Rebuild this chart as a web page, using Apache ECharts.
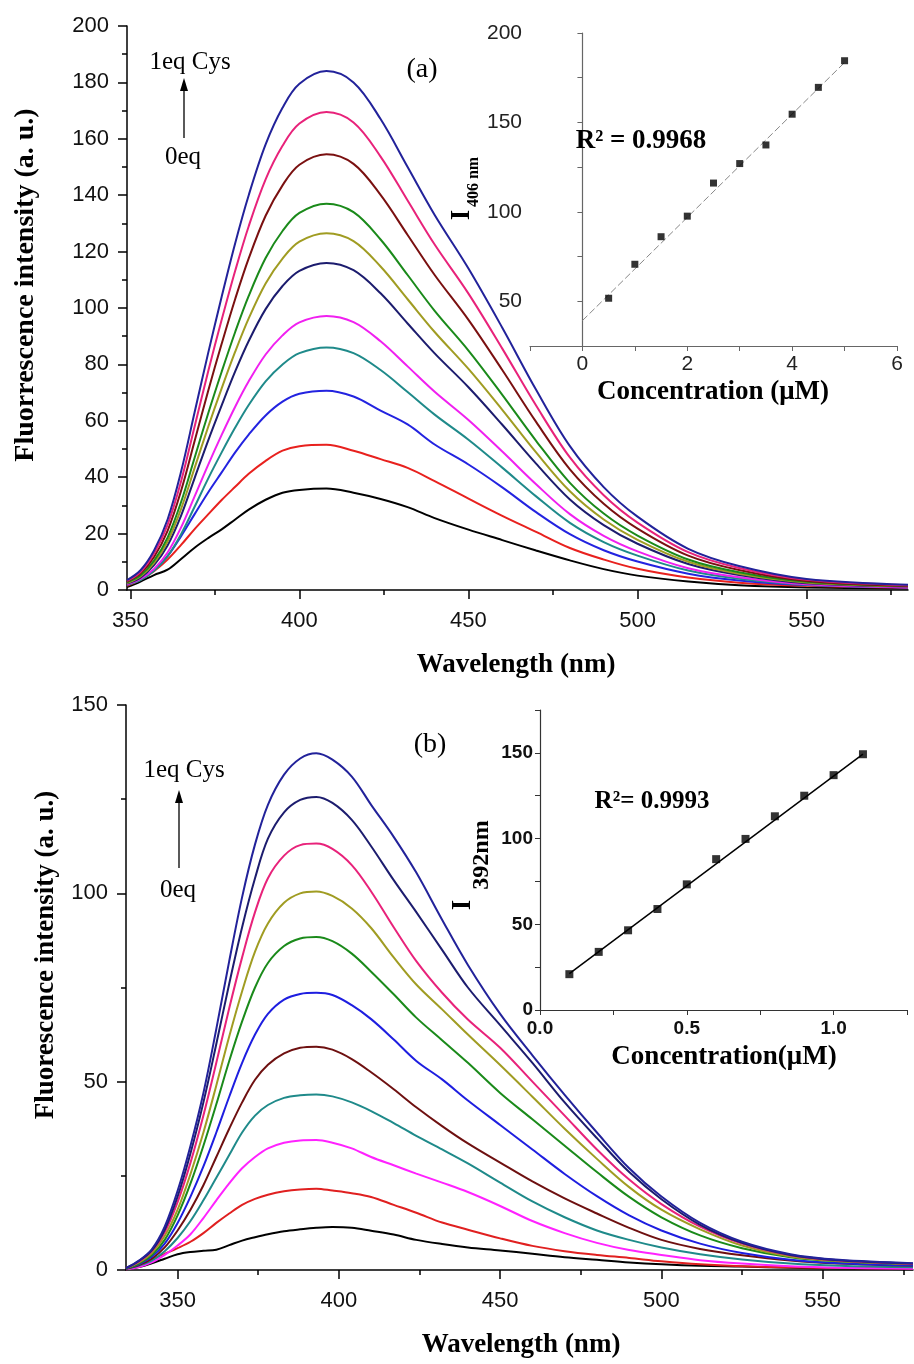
<!DOCTYPE html>
<html>
<head>
<meta charset="utf-8">
<script src="https://cdn.jsdelivr.net/npm/echarts@6/dist/echarts.min.js"></script>
<style>
  html, body { margin: 0; padding: 0; background: #fff; }
  #chart { width: 914px; height: 1364px; }
</style>
</head>
<body>
<div id="chart"></div>
<script>
// ---- panel (a): emission spectra, 0 -> 1 eq Cys ----
const wavelengthA = [349, 353, 357, 361, 365, 369, 373, 377, 381, 385, 390, 395, 400, 408, 416, 424, 432, 440, 450, 460, 470, 480, 490, 500, 515, 530, 550, 580];
const a0 = [1.0, 3.0, 5.3, 7.2, 11, 15, 18.4, 21.5, 25, 28.5, 32, 34.5, 35.5, 36, 34.5, 32.3, 29.4, 25.5, 21.4, 17.7, 14, 10.5, 7.4, 5.1, 3.0, 1.7, 0.9, 0.5];
const a1 = [1.5, 3.6, 6.7, 10.8, 16, 21.6, 26.8, 31.9, 36.6, 41.2, 45.8, 49.4, 51, 51.5, 49.4, 46.4, 43.3, 38.6, 32.4, 26.3, 20.6, 14.9, 10.8, 7.5, 4.4, 2.6, 1.5, 0.8];
const a2 = [1.8, 3.9, 7.1, 12, 19.1, 26.9, 34.6, 41.7, 48.8, 55.1, 61.9, 66.8, 69.6, 70.7, 68.6, 63.6, 58.7, 51.6, 44.5, 36.4, 27.6, 19.8, 14.1, 10.1, 5.8, 3.4, 1.8, 0.9];
const a3 = [1.9, 3.5, 6.8, 12, 19.8, 29.5, 39.5, 48.8, 57.6, 65.6, 74, 80, 84, 86, 84, 78, 70.2, 62.2, 53.3, 43.4, 33.2, 23.8, 17, 12.2, 6.9, 4, 1.9, 1.0];
const a4 = [2, 3.9, 7.5, 13.3, 22.2, 33.2, 44.4, 55, 65, 74, 83.5, 90.3, 94.9, 97.2, 95, 88.2, 79.3, 70.3, 60.3, 49.1, 37.5, 26.9, 19.2, 13.7, 7.7, 4.5, 2.0, 0.9];
const a5 = [2.3, 4.4, 8.8, 15.8, 26.4, 39.7, 53, 65.5, 77.5, 88.3, 99.6, 107.8, 113.2, 116, 113.4, 105.2, 94.5, 83.9, 71.9, 58.6, 44.8, 32.1, 23, 16.4, 9.2, 5.3, 2.4, 1.2];
const a6 = [2.5, 4.8, 9.6, 17.2, 28.8, 43.3, 57.8, 71.5, 84.5, 96.3, 108.7, 117.5, 123.5, 126.5, 123.7, 114.7, 103.1, 91.5, 78.4, 63.9, 48.8, 35, 25, 17.8, 10, 5.8, 2.7, 1.3];
const a7 = [2.7, 5.2, 10.4, 18.6, 31.2, 46.9, 62.6, 77.4, 91.5, 104.3, 117.7, 127.3, 133.7, 137, 134, 124.3, 111.7, 99, 84.9, 69.2, 52.9, 38, 27.1, 19.3, 10.8, 6.3, 2.9, 1.4];
const a8 = [3, 5.9, 11.7, 21, 35.2, 52.8, 70.6, 87.3, 103.2, 117.6, 132.7, 143.5, 150.8, 154.5, 151.1, 140.1, 125.9, 111.7, 95.8, 78, 59.6, 42.8, 30.6, 21.8, 12.2, 7.1, 3.2, 1.5];
const a9 = [3.2, 6.4, 12.9, 23.1, 38.6, 58, 77.5, 95.8, 113.2, 129, 145.6, 157.5, 165.4, 169.5, 165.8, 153.7, 138.1, 122.5, 105.1, 85.6, 65.4, 47, 33.6, 23.9, 13.4, 7.8, 3.6, 1.7];
const a10 = [3.5, 7, 14, 25, 42, 63, 84, 104, 123, 140, 158, 171, 179.5, 184, 180, 167, 150, 133, 114, 93, 71, 51, 36.5, 26, 14.6, 8.5, 3.9, 1.9];
const colorsA = ['#000000', '#e8211e', '#2323e0', '#1f8a8a', '#f020f0', '#1c1c6e', '#a09c22', '#1a8a1a', '#7a1010', '#e8227a', '#22229a'];

// inset (a): I(406 nm) vs concentration
const concA = [0.5, 1, 1.5, 2, 2.5, 3, 3.5, 4, 4.5, 5];
const peakA = [51.7, 70.7, 86.1, 97.6, 116.1, 127.0, 137.4, 154.6, 169.6, 184.5];
const fitConcA = [0, 5];
const fitPeakA = [39.2, 183.5];

// ---- panel (b) ----
const wavelengthB = [334, 338, 342, 346, 350, 354, 358, 362, 366, 370, 374, 378, 383, 388, 393, 398, 404, 410, 417, 424, 432, 440, 450, 460, 470, 480, 490, 500, 512, 525, 540, 555, 578];
const b0 = [0.2, 0.8, 1.8, 3.0, 4.2, 4.8, 5.1, 5.4, 6.6, 7.8, 8.7, 9.5, 10.3, 10.8, 11.2, 11.4, 11.2, 10.4, 9.4, 8.0, 6.9, 6.0, 5.2, 4.3, 3.4, 2.7, 2.0, 1.5, 1.1, 0.9, 0.6, 0.4, 0.2];
const b1 = [0.2, 1.0, 2.8, 4.3, 5.8, 7.5, 9.8, 12.5, 15, 17.3, 18.9, 20, 20.9, 21.4, 21.6, 21.1, 20.4, 19.4, 17.3, 15.2, 12.6, 10.7, 8.4, 6.4, 5.0, 4.0, 3.2, 2.3, 1.5, 1.0, 0.7, 0.5, 0.4];
const b2 = [0.2, 0.8, 2.0, 4.0, 6.5, 9.5, 13.8, 18.5, 23, 27, 30, 32.3, 33.8, 34.4, 34.5, 33.8, 32.3, 30, 27.8, 25.6, 23.2, 20.7, 17, 13, 9.8, 7.2, 5.3, 4.0, 2.6, 1.7, 1.0, 0.6, 0.3];
const b3 = [0.3, 1.2, 2.5, 5, 8.5, 13, 18.5, 24.5, 30.5, 36.5, 41, 43.8, 45.7, 46.4, 46.6, 46.1, 44.5, 42.2, 39, 35.6, 32, 28.3, 23.2, 18.2, 14, 10.5, 8, 6, 4.2, 2.8, 1.7, 1.1, 0.7];
const b4 = [0.3, 1.3, 3, 6, 10.5, 16, 22.5, 30, 37.5, 44.5, 50.5, 54.5, 57.5, 59, 59.3, 58.5, 56, 52.5, 48, 43.2, 38.2, 33.6, 28.5, 23.5, 19, 15, 11.2, 8, 5.6, 3.9, 2.5, 1.7, 1.1];
const b5 = [0.4, 1.5, 3.5, 7, 12.5, 19.5, 27.5, 36.5, 46, 55, 62.5, 68, 71.8, 73.3, 73.6, 73, 70.3, 66.6, 61.2, 55.5, 50.6, 45, 38.5, 32, 25.5, 19.6, 14.5, 10.5, 7, 4.5, 2.7, 1.8, 1.2];
const b6 = [0.4, 1.7, 4, 8, 14.5, 23, 33, 44, 55.5, 66, 75, 81.5, 86, 88, 88.4, 87.3, 84, 79.2, 73.2, 67, 61, 55, 47, 40, 33, 26, 19.4, 14, 9.2, 5.8, 3.4, 2.3, 1.5];
const b7 = [0.5, 2, 4.5, 9, 16, 25.5, 36.5, 49, 62, 74, 84.5, 92, 97.5, 100, 100.5, 99.3, 96, 90.8, 83, 75.8, 69.2, 62.5, 54.4, 46, 37.5, 29.5, 22, 16, 10.8, 6.5, 3.6, 2.4, 1.6];
const b8 = [0.5, 2.2, 5, 10, 18, 28.5, 41, 55, 69.5, 83, 95, 104, 110, 112.8, 113.2, 111.8, 107.5, 100.5, 91, 82, 73.6, 66.5, 59, 50, 41, 32, 24, 17.5, 11.5, 7.0, 3.9, 2.5, 1.6];
const b9 = [0.5, 2.4, 5.2, 10.7, 19.5, 31, 44.5, 60, 76, 91, 104, 114.5, 121.5, 124.8, 125.6, 124, 119.5, 112.5, 103.5, 95, 85, 75, 65, 55, 44.5, 35, 26, 18.8, 12, 7.2, 4.0, 2.6, 1.7];
const b10 = [0.5, 2.5, 5.5, 11.5, 21, 33, 47, 64, 82, 99, 113, 123.5, 131.5, 135.8, 137.2, 135.5, 131, 123.5, 115, 105.5, 93, 81, 68, 57, 46.5, 36.5, 27, 19.5, 12.5, 7.5, 4.2, 2.7, 1.8];
const colorsB = ['#000000', '#e02020', '#ff22ff', '#1f8a8a', '#6e1010', '#1e1ee0', '#1a8a1a', '#a09c22', '#e8227a', '#1c1c6e', '#22229a'];

// inset (b): I(392 nm) vs concentration
const concB = [0.1, 0.2, 0.3, 0.4, 0.5, 0.6, 0.7, 0.8, 0.9, 1.0, 1.1];
const peakB = [20.9, 33.9, 46.5, 58.9, 73.3, 88.0, 99.8, 113.0, 125.0, 137.0, 149.2];
const fitConcB = [0.1, 1.1];
const fitPeakB = [21.2, 149.3];

const ticksMajor = [350, 400, 450, 500, 550];
const ticksMinor = [375, 425, 475, 525, 575];

const SANS = 'Liberation Sans';
const SERIF = 'Liberation Serif';

const zip = (xs, ys) => xs.map((x, i) => [x, ys[i]]);

function spectrum(w, ys, color, xi, yi) {
    return {
        type: 'line', xAxisIndex: xi, yAxisIndex: yi,
        data: zip(w, ys), smooth: 0.35, symbol: 'none',
        lineStyle: { color: color, width: 2 }, z: 2
    };
}

function mainX(grid, min, max) {
    return [{
        gridIndex: grid, type: 'value', position: 'bottom', min: min, max: max,
        axisLine: { lineStyle: { color: '#000', width: 1.5 } },
        axisTick: { customValues: ticksMajor, length: 9, lineStyle: { color: '#000', width: 1.5 } },
        axisLabel: { customValues: ticksMajor, margin: 20, fontFamily: SANS, fontSize: 22, color: '#111' },
        splitLine: { show: false }
    }, {
        // second axis on the same spot, only for the short in-between ticks
        gridIndex: grid, type: 'value', position: 'bottom', min: min, max: max,
        axisLine: { show: false },
        axisTick: { customValues: ticksMinor, length: 5, lineStyle: { color: '#000', width: 1.5 } },
        axisLabel: { show: false },
        splitLine: { show: false }
    }];
}

function mainY(grid, max, interval) {
    return {
        gridIndex: grid, type: 'value', min: 0, max: max, interval: interval,
        axisLine: { show: true, lineStyle: { color: '#000', width: 1.5 } },
        axisTick: { show: true, length: 9, lineStyle: { color: '#000', width: 1.5 } },
        minorTick: { show: true, splitNumber: 2, length: 5, lineStyle: { color: '#000', width: 1.5 } },
        axisLabel: { margin: 18, fontFamily: SANS, fontSize: 22, color: '#111' },
        splitLine: { show: false }
    };
}

const chart = echarts.init(document.getElementById('chart'));

const seriesA = [a0, a1, a2, a3, a4, a5, a6, a7, a8, a9, a10].map((ys, i) => spectrum(wavelengthA, ys, colorsA[i], 0, 0));
const seriesB = [b0, b1, b2, b3, b4, b5, b6, b7, b8, b9, b10].map((ys, i) => spectrum(wavelengthB, ys, colorsB[i], 3, 2));

const txt = (x, y, text, font, extra) => Object.assign({
    type: 'text', x: x, y: y, z: 10,
    style: { text: text, font: font, fill: '#000', textAlign: 'center', textVerticalAlign: 'middle' }
}, extra || {});

const arrow = (x, yTail, yTip) => ({
    type: 'group', z: 10,
    children: [
        { type: 'line', shape: { x1: x, y1: yTail, x2: x, y2: yTip + 10 }, style: { stroke: '#000', lineWidth: 1.3 } },
        { type: 'polygon', shape: { points: [[x, yTip], [x - 4, yTip + 13], [x + 4, yTip + 13]] }, style: { fill: '#000' } }
    ]
});

const up = { rotation: Math.PI / 2 };

chart.setOption({
    animation: false,
    backgroundColor: '#fff',
    grid: [
        { left: 127, top: 26, width: 781, height: 564 },
        { left: 530, top: 33, width: 367, height: 313 },
        { left: 126, top: 705, width: 787, height: 565 },
        { left: 540, top: 710, width: 367, height: 300 }
    ],
    xAxis: [
        ...mainX(0, 349, 580),
        {
            gridIndex: 1, type: 'value', min: -1, max: 6, interval: 1,
            axisLine: { lineStyle: { color: '#666', width: 1.2 } },
            axisTick: { length: 5, lineStyle: { color: '#666' } },
            axisLabel: {
                margin: 8, fontFamily: SANS, fontSize: 21, color: '#222',
                formatter: v => (v >= 0 && v % 2 === 0) ? String(v) : ''
            },
            splitLine: { show: false }
        },
        ...mainX(2, 334, 578),
        {
            gridIndex: 3, type: 'value', min: 0, max: 1.25, interval: 0.25,
            axisLine: { lineStyle: { color: '#333', width: 1.2 } },
            axisTick: { length: 5, lineStyle: { color: '#333' } },
            axisLabel: {
                margin: 9, fontFamily: SANS, fontSize: 19, fontWeight: 'bold', color: '#111',
                formatter: v => Math.abs(v * 2 - Math.round(v * 2)) < 1e-6 ? v.toFixed(1) : ''
            },
            splitLine: { show: false }
        }
    ],
    yAxis: [
        mainY(0, 200, 20),
        {
            gridIndex: 1, type: 'value', min: 25, max: 200, interval: 25,
            axisLine: { show: true, lineStyle: { color: '#666', width: 1.2 } },
            axisTick: { show: true, length: 5, lineStyle: { color: '#666' } },
            axisLabel: {
                margin: 8, fontFamily: SANS, fontSize: 21, color: '#222',
                formatter: v => v % 50 === 0 ? String(v) : ''
            },
            splitLine: { show: false }
        },
        mainY(2, 150, 50),
        {
            gridIndex: 3, type: 'value', min: 0, max: 175, interval: 25,
            axisLine: { show: true, lineStyle: { color: '#333', width: 1.2 } },
            axisTick: { show: true, length: 5, lineStyle: { color: '#333' } },
            axisLabel: {
                margin: 7, fontFamily: SANS, fontSize: 19, fontWeight: 'bold', color: '#111',
                formatter: v => v % 50 === 0 ? String(v) : ''
            },
            splitLine: { show: false }
        }
    ],
    series: [
        ...seriesA,
        {
            type: 'line', xAxisIndex: 2, yAxisIndex: 1, data: zip(fitConcA, fitPeakA),
            symbol: 'none', lineStyle: { color: '#888', width: 1, type: [7, 3] }, z: 3
        },
        {
            type: 'scatter', xAxisIndex: 2, yAxisIndex: 1, data: zip(concA, peakA),
            symbol: 'rect', symbolSize: 7, itemStyle: { color: '#000' }, z: 4
        },
        ...seriesB,
        {
            type: 'line', xAxisIndex: 5, yAxisIndex: 3, data: zip(fitConcB, fitPeakB),
            symbol: 'none', lineStyle: { color: '#000', width: 1.5 }, z: 3
        },
        {
            type: 'scatter', xAxisIndex: 5, yAxisIndex: 3, data: zip(concB, peakB),
            symbol: 'rect', symbolSize: 8, itemStyle: { color: '#000' }, z: 4
        }
    ],
    graphic: [
        // panel (a)
        txt(26, 285, 'Fluorrescence intensity (a. u.)', 'bold 28px ' + SERIF, up),
        txt(516, 665, 'Wavelength (nm)', 'bold 27px ' + SERIF),
        txt(190, 62, '1eq Cys', '25px ' + SERIF),
        arrow(184, 138, 78),
        txt(183, 157, '0eq', '25px ' + SERIF),
        txt(422, 70, '(a)', '28px ' + SERIF),
        txt(641, 141, 'R² = 0.9968', 'bold 27px ' + SERIF),
        txt(462, 215, 'I', 'bold 27px ' + SERIF, up),
        txt(474, 182, '406 nm', 'bold 16px ' + SERIF, up),
        txt(713, 392, 'Concentration (μM)', 'bold 27px ' + SERIF),
        // panel (b)
        txt(46, 955, 'Fluorescence intensity (a. u.)', 'bold 27px ' + SERIF, up),
        txt(521, 1345, 'Wavelength (nm)', 'bold 27px ' + SERIF),
        txt(184, 770, '1eq Cys', '25px ' + SERIF),
        arrow(179, 868, 790),
        txt(178, 890, '0eq', '25px ' + SERIF),
        txt(430, 745, '(b)', '28px ' + SERIF),
        txt(652, 802, 'R²= 0.9993', 'bold 25px ' + SERIF),
        txt(463, 905, 'I', 'bold 27px ' + SERIF, up),
        txt(482, 855, '392nm', 'bold 24px ' + SERIF, up),
        txt(724, 1057, 'Concentration(μM)', 'bold 27px ' + SERIF)
    ]
});
</script>
</body>
</html>
